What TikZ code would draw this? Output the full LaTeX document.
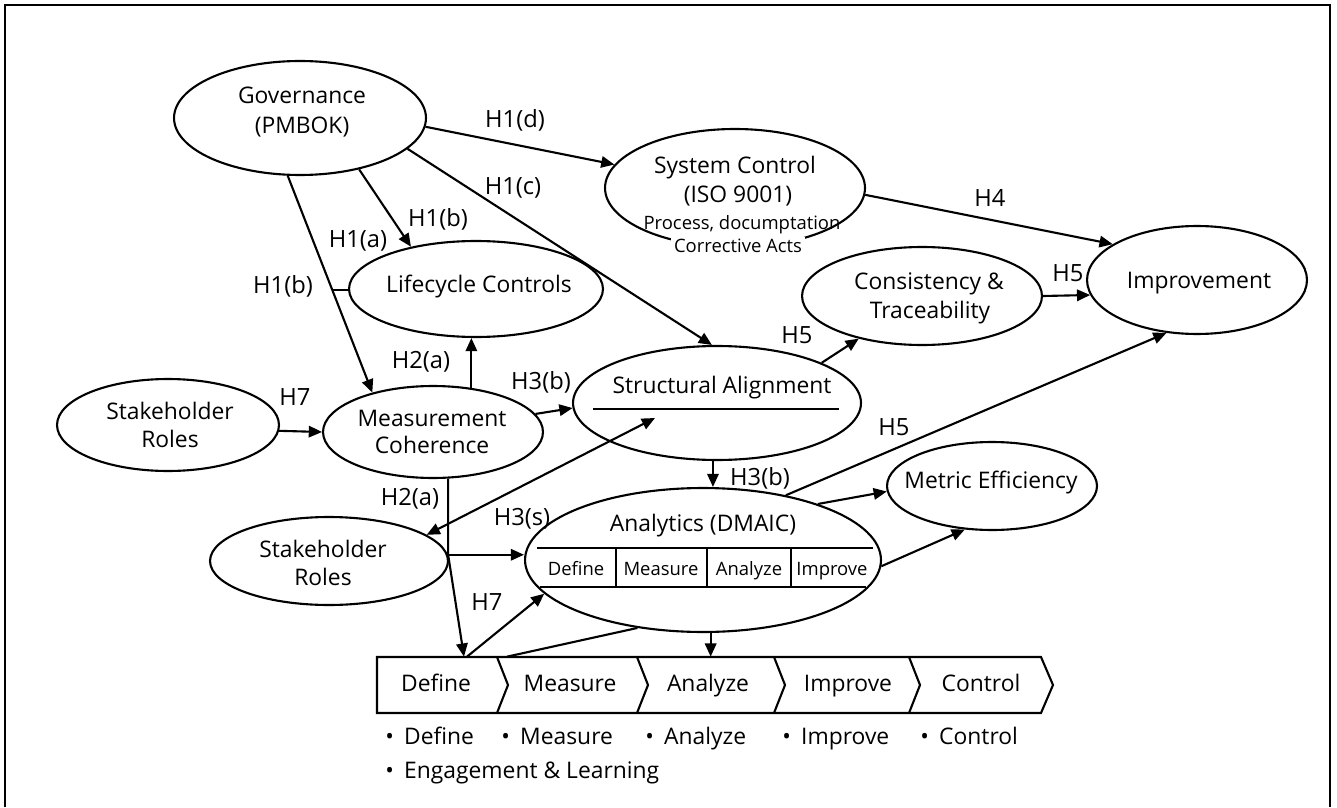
\documentclass[tikz,border=0pt]{standalone}
\usepackage{fontspec}
\setmainfont{Open Sans}
\usetikzlibrary{shapes.geometric,arrows.meta,calc}
\newcommand{\bul}{•\hspace{0.45em}}
\begin{document}
\begin{tikzpicture}[x=0.02cm,y=-0.02cm,
  ell/.style={draw, ellipse, line width=1.2pt, inner sep=0pt},
  txt/.style={font=\fontsize{13}{15}\selectfont, inner sep=0pt, anchor=base},
  sml/.style={font=\fontsize{10.5}{12}\selectfont, inner sep=0pt, anchor=base},
  lbl/.style={font=\fontsize{13.5}{15}\selectfont, inner sep=0pt},
  blt/.style={font=\fontsize{13}{15}\selectfont, inner sep=0pt, anchor=base west},
  ln/.style={line width=1.2pt},
  arr/.style={line width=1.2pt, -{Triangle[length=7.5pt,width=6.5pt]}},
  dbl/.style={line width=1.2pt, {Triangle[length=7.5pt,width=6.5pt]}-{Triangle[length=7.5pt,width=6.5pt]}}
]
\useasboundingbox (0,0) rectangle (1337,807);
\draw[line width=1.5pt] (5,807) -- (5,5) -- (1330,5) -- (1330,807);

% ellipses
\node[ell, minimum width=5.04cm, minimum height=2.28cm] (gov) at (300,118) {};
\node[ell, minimum width=5.2cm, minimum height=2.36cm] (sys) at (735,188) {};
\node[ell, minimum width=5.08cm, minimum height=1.92cm] (life) at (476,289) {};
\node[ell, minimum width=4.4cm, minimum height=1.84cm] (meas) at (433,432) {};
\node[ell, minimum width=4.44cm, minimum height=1.84cm] (sr1) at (168,425) {};
\node[ell, minimum width=4.76cm, minimum height=1.76cm] (sr2) at (329,561) {};
\node[ell, minimum width=5.76cm, minimum height=2.28cm] (sa) at (717,403) {};
\node[ell, minimum width=7.12cm, minimum height=2.88cm] (ana) at (703,560) {};
\node[ell, minimum width=4.4cm, minimum height=2.16cm] (imp) at (1197,280) {};
\node[ell, minimum width=4.8cm, minimum height=1.96cm] (cons) at (922,296) {};
\node[ell, minimum width=4.2cm, minimum height=1.76cm] (met) at (992,486) {};

% ellipse texts
\node[txt] (govA) at (302,104) {Governance};
\node[txt] (govB) at (302,134) {(PMBOK)};
\node[txt] (sysA) at (735,174) {System Control};
\node[txt] (sysB) at (738,203) {(ISO 9001)};
\node[sml] (sysC) at (742,230) {Process, documptation};
\node[sml, fill=white, inner sep=1.5pt] (sysD) at (738,253) {Corrective Acts};
\node[txt] (lifeA) at (479,293) {Lifecycle Controls};
\node[txt] (measA) at (432,426) {Measurement};
\node[txt] (measB) at (432,453) {Coherence};
\node[txt] (sr1A) at (170,419) {Stakeholder};
\node[txt] (sr1B) at (170,447) {Roles};
\node[txt] (sr2A) at (323,557) {Stakeholder};
\node[txt] (sr2B) at (323,585) {Roles};
\node[txt] (saA) at (722,393) {Structural Alignment};
\draw[ln] (593,409) -- (839,409);
\node[txt] (anaA) at (703,531) {Analytics (DMAIC)};
\node[txt] (impA) at (1199,289) {Improvement};
\node[txt] (consA) at (929,290) {Consistency \&};
\node[txt] (consB) at (930,318) {Traceability};
\node[txt] (metA) at (991,488) {Metric Efficiency};

% analytics table
\draw[ln] (537,548) -- (873,548);
\draw[ln] (540,587) -- (866,587);
\draw[ln] (616,548) -- (616,587);
\draw[ln] (707,548) -- (707,587);
\draw[ln] (791,548) -- (791,587);
\node[sml] (tcA) at (576,575) {Define};
\node[sml] (tcB) at (661,575) {Measure};
\node[sml] (tcC) at (749,575) {Analyze};
\node[sml] (tcD) at (832,575) {Improve};

% DMAIC bar
\node[minimum width=13.52cm, minimum height=1.12cm, inner sep=0pt, draw=none] (bar) at (715,685) {};
\draw[ln] (377,657) -- (1041,657) -- (1053,685) -- (1041,713) -- (377,713) -- cycle;
\draw[ln] (497,657) -- (508,685) -- (497,713);
\draw[ln] (637,657) -- (648,685) -- (637,713);
\draw[ln] (774,657) -- (785,685) -- (774,713);
\draw[ln] (909,657) -- (920,685) -- (909,713);
\node[txt] (bA) at (436,691) {Define};
\node[txt] (bB) at (570,691) {Measure};
\node[txt] (bC) at (708,691) {Analyze};
\node[txt] (bD) at (848,691) {Improve};
\node[txt] (bE) at (981,691) {Control};

% bullets
\node[blt] (uA) at (385,744) {\bul Define};
\node[blt] (uB) at (501,744) {\bul Measure};
\node[blt] (uC) at (645,744) {\bul Analyze};
\node[blt] (uD) at (782,744) {\bul Improve};
\node[blt] (uE) at (920,744) {\bul Control};
\node[blt] (uF) at (385,778) {\bul Engagement \& Learning};

% connectors
\draw[arr] (gov.-4) -- (sys.169);
\draw[arr] (gov.-41) -- (life.147);
\draw[arr] (gov.-16) -- (sa.95);
\draw[arr] (gov.-102) -- coordinate[pos=0.525] (tk) (meas.147);
\draw[ln] (tk) -- (tk -| life.west);
\draw[arr] (sr1.-3) -- (meas.west);
\draw[arr] (meas.49) -- (meas.49 |- life.south);
\draw[arr] (meas.10) -- (sa.182);
\draw[arr] (sa.21) -- (cons.214);
\draw[arr] (cons.east) -- (imp.188);
\draw[arr] (sys.-3) -- (imp.157);
\draw[arr] (sa.-94) -- (sa.-94 |- ana.north);
\draw[arr] (ana.38) -- (imp.240);
\draw[arr] (ana.26) -- (met.183);
\draw[arr] (ana.-2) -- (met.238);
\coordinate (saIn) at (655,418);
\draw[dbl] (sr2.15) -- (saIn);
\draw[arr] (meas.-72) -- (meas.-72 |- sr2.3) -- (464,0 |- bar.north);
\draw[arr] (sr2.3) -- (sr2.3 -| ana.west);
\draw[arr] (467,0 |- bar.north) -- (ana.192);
\draw[ln] (507,0 |- bar.north) -- (ana.226);
\draw[arr] (ana.-84) -- (ana.-84 |- bar.north);

% labels
\node[lbl] (l1) at (515,120) {H1(d)};
\node[lbl] (l2) at (513,188) {H1(c)};
\node[lbl] (l3) at (438,219) {H1(b)};
\node[lbl] (l4) at (358,241) {H1(a)};
\node[lbl] (l5) at (283,286) {H1(b)};
\node[lbl] (l6) at (295,397) {H7};
\node[lbl] (l7) at (421,362) {H2(a)};
\node[lbl] (l8) at (541,382) {H3(b)};
\node[lbl] (l9) at (797,335) {H5};
\node[lbl] (l10) at (1068,273) {H5};
\node[lbl] (l11) at (990,198) {H4};
\node[lbl] (l12) at (760,478) {H3(b)};
\node[lbl] (l13) at (894,427) {H5};
\node[lbl] (l14) at (410,499) {H2(a)};
\node[lbl] (l15) at (522,519) {H3(s)};
\node[lbl] (l16) at (487,602) {H7};
\end{tikzpicture}
\end{document}
